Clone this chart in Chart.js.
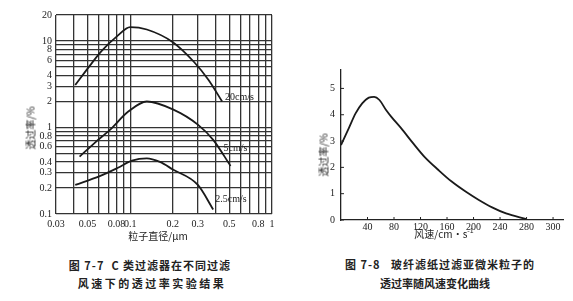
<!DOCTYPE html>
<html>
<head>
<meta charset="utf-8">
<script src="https://cdn.jsdelivr.net/npm/chart.js@4.4.1/dist/chart.umd.min.js"></script>
<style>
  body { margin: 0; background: #fff; width: 573px; height: 301px; overflow: hidden; position: relative; font-family: "Noto Sans CJK SC", sans-serif; }
  canvas { position: absolute; }
  .t { position: absolute; white-space: nowrap; color: #222; font-size: 10px; transform: translate(-50%, -50%); }
  .v { transform: translate(-50%, -50%) rotate(-90deg); }
  .cap { position: absolute; white-space: nowrap; font-weight: bold; font-size: 11px; color: #222; transform: translate(-50%, -50%); }
</style>
</head>
<body>
<canvas id="c1" width="290" height="240" style="left:0;top:0"></canvas>
<canvas id="c2" width="283" height="200" style="left:290px;top:50px"></canvas>

<div class="t v" style="left:30px;top:128px">透过率/%</div>
<div class="t" style="left:158px;top:235px">粒子直径/μm</div>
<div class="t v" style="left:323px;top:155px">透过率/%</div>
<div class="t" style="left:444px;top:233px">风速/cm·s<sup style="font-size:7px">-1</sup></div>

<div class="cap" style="left:150px;top:265px;letter-spacing:1px">图 7-7&nbsp;&nbsp;C 类过滤器在不同过滤</div>
<div class="cap" style="left:152px;top:283px;letter-spacing:2.5px">风速下的透过率实验结果</div>
<div class="cap" style="left:440px;top:264px;letter-spacing:1px">图 7-8&nbsp;&nbsp;&nbsp;玻纤滤纸过滤亚微米粒子的</div>
<div class="cap" style="left:435px;top:283px">透过率随风速变化曲线</div>

<script>
// ---- 图 7-7 数据 ----
const sizeTicks = [0.03, 0.04, 0.05, 0.06, 0.07, 0.08, 0.09, 0.1, 0.2, 0.3, 0.4, 0.5, 0.6, 0.7, 0.8, 0.9, 1];
const sizeLabels = [0.03, 0.05, 0.08, 0.1, 0.2, 0.3, 0.5, 0.8, 1];
const rateTicks = [0.1, 0.2, 0.3, 0.4, 0.5, 0.6, 0.7, 0.8, 0.9, 1, 2, 3, 4, 5, 6, 7, 8, 9, 10, 20];
const rateLabels = [0.1, 0.2, 0.3, 0.4, 0.6, 0.8, 1, 2, 3, 4, 6, 8, 10, 20];
const speedNames = ['20cm/s', '5cm/s', '2.5cm/s'];

const size20 = [0.041, 0.052, 0.063, 0.081, 0.1, 0.131, 0.2, 0.28, 0.357, 0.445];
const rate20 = [3.1, 5.2, 7.7, 11.4, 14.5, 13.6, 9.7, 5.8, 3.55, 2.0];
const size5 = [0.044, 0.0565, 0.072, 0.097, 0.131, 0.2, 0.3, 0.385, 0.51];
const rate5 = [0.46, 0.67, 0.94, 1.53, 2.0, 1.62, 1.08, 0.72, 0.36];
const size25 = [0.041, 0.061, 0.082, 0.103, 0.131, 0.162, 0.2, 0.3, 0.385];
const rate25 = [0.217, 0.274, 0.343, 0.414, 0.44, 0.40, 0.327, 0.217, 0.113];

// ---- 图 7-8 数据 ----
// el original dibuja "300" a la distancia de un paso más (en 320)
const windTicks = [40, 80, 120, 160, 200, 240, 280, 320];
const windTickText = ['40', '80', '120', '160', '200', '240', '280', '300'];
const penTicks = [0, 1, 2, 3, 4, 5];
const windSpeed = [0, 12, 22, 32, 42, 50, 58, 68, 76, 91, 109, 126, 147, 167, 188, 208, 228, 249, 280];
const penetration = [2.85, 3.5, 4.05, 4.43, 4.65, 4.68, 4.56, 4.18, 3.92, 3.48, 2.91, 2.4, 1.9, 1.46, 1.08, 0.76, 0.48, 0.25, 0.03];

const serif = { family: '"Liberation Serif"', size: 10 };
const toPts = (xs, ys) => xs.map((x, i) => ({ x, y: ys[i] }));

// etiquetas al final de cada curva
const etiquetasCurva = {
  id: 'etiquetasCurva',
  afterDatasetsDraw(chart) {
    const ctx = chart.ctx;
    ctx.save();
    ctx.font = '10px "Liberation Serif"';
    ctx.fillStyle = '#222';
    ctx.textBaseline = 'middle';
    chart.data.datasets.forEach((ds, i) => {
      const pts = chart.getDatasetMeta(i).data;
      const ultimo = pts[pts.length - 1];
      ctx.fillText(ds.label, ultimo.x + ds.tagDx, ultimo.y + ds.tagDy);
    });
    ctx.restore();
  }
};

// marcas cortas hacia dentro en los ejes
const marcasInternas = {
  id: 'marcasInternas',
  afterDraw(chart) {
    const ctx = chart.ctx;
    const { x, y } = chart.scales;
    ctx.save();
    ctx.strokeStyle = '#222';
    ctx.lineWidth = 1;
    x.ticks.forEach((t, i) => {
      const px = x.getPixelForTick(i);
      ctx.beginPath(); ctx.moveTo(px, x.top); ctx.lineTo(px, x.top - 3); ctx.stroke();
    });
    y.ticks.forEach((t, i) => {
      const py = y.getPixelForTick(i);
      ctx.beginPath(); ctx.moveTo(y.right, py); ctx.lineTo(y.right + 3, py); ctx.stroke();
    });
    ctx.restore();
  }
};

const linea = { borderColor: '#1a1a1a', borderWidth: 1.8, pointRadius: 0, fill: false, cubicInterpolationMode: 'monotone' };

new Chart(document.getElementById('c1'), {
  type: 'line',
  data: {
    datasets: [
      { ...linea, label: speedNames[0], data: toPts(size20, rate20), tagDx: 3, tagDy: -4 },
      { ...linea, label: speedNames[1], data: toPts(size5, rate5), tagDx: -7, tagDy: -18 },
      { ...linea, label: speedNames[2], data: toPts(size25, rate25), tagDx: 2, tagDy: -10 }
    ]
  },
  options: {
    responsive: false,
    animation: false,
    layout: { padding: { left: 0, top: 15, right: 18, bottom: 0 } },
    plugins: { legend: { display: false }, tooltip: { enabled: false } },
    scales: {
      x: {
        type: 'logarithmic', min: 0.03, max: 1,
        afterBuildTicks: s => { s.ticks = sizeTicks.map(v => ({ value: v })); },
        afterFit: s => { s.height = 26; },
        ticks: { autoSkip: false, maxRotation: 0, padding: 4, font: serif, color: '#222',
          callback: v => sizeLabels.includes(v) ? String(v) : '' },
        grid: { color: '#333', lineWidth: 1.3, drawTicks: false },
        border: { display: false }
      },
      y: {
        type: 'logarithmic', min: 0.1, max: 20,
        afterBuildTicks: s => { s.ticks = rateTicks.map(v => ({ value: v })); },
        afterFit: s => { s.width = 56; },
        ticks: { autoSkip: false, padding: 4, font: serif, color: '#222',
          callback: v => rateLabels.includes(v) ? String(v) : '' },
        grid: { color: '#333', lineWidth: 1.3, drawTicks: false },
        border: { display: false }
      }
    }
  },
  plugins: [etiquetasCurva]
});

new Chart(document.getElementById('c2'), {
  type: 'line',
  data: {
    datasets: [{ ...linea, label: '', data: toPts(windSpeed, penetration) }]
  },
  options: {
    responsive: false,
    animation: false,
    layout: { padding: { left: 0, top: 20, right: 10, bottom: 0 } },
    plugins: { legend: { display: false }, tooltip: { enabled: false } },
    scales: {
      x: {
        type: 'linear', min: 0, max: 335,
        afterBuildTicks: s => { s.ticks = windTicks.map(v => ({ value: v })); },
        afterFit: s => { s.height = 30; },
        ticks: { autoSkip: false, maxRotation: 0, padding: 1, font: serif, color: '#222',
          callback: v => windTickText[windTicks.indexOf(v)] },
        grid: { display: false, drawTicks: false },
        border: { display: true, color: '#222', width: 1.3 }
      },
      y: {
        type: 'linear', min: 0, max: 5.7,
        afterBuildTicks: s => { s.ticks = penTicks.map(v => ({ value: v })); },
        afterFit: s => { s.width = 51; },
        ticks: { autoSkip: false, padding: 6, font: serif, color: '#222' },
        grid: { display: false, drawTicks: false },
        border: { display: true, color: '#222', width: 1.3 }
      }
    }
  },
  plugins: [marcasInternas]
});
</script>
</body>
</html>
